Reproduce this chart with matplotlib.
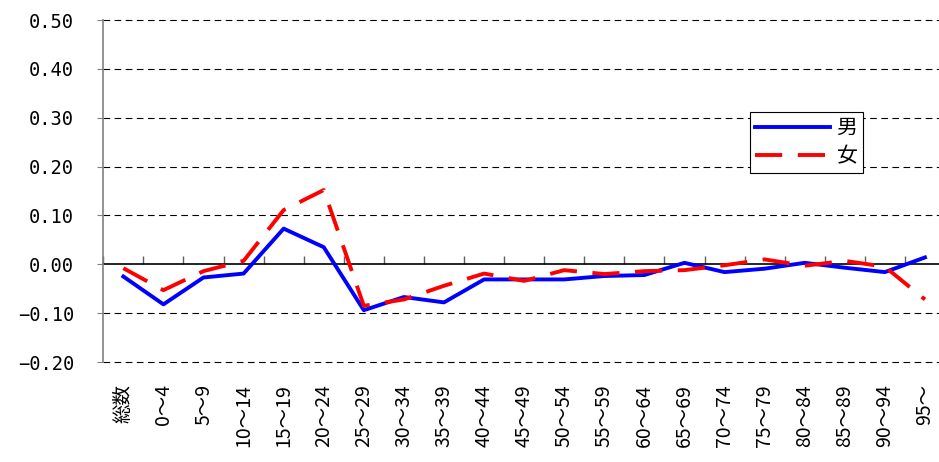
import matplotlib
matplotlib.use("Agg")
import matplotlib.pyplot as plt
import numpy as np

plt.rcParams['font.family'] = ['Noto Sans CJK JP', 'DejaVu Sans']

# 年齢階級
categories = ['総数', '0～4', '5～9', '10～14', '15～19', '20～24', '25～29',
              '30～34', '35～39', '40～44', '45～49', '50～54', '55～59',
              '60～64', '65～69', '70～74', '75～79', '80～84', '85～89',
              '90～94', '95～']
# 男
male = [-0.025, -0.082, -0.027, -0.019, 0.073, 0.035, -0.094, -0.067, -0.078,
        -0.031, -0.031, -0.031, -0.024, -0.022, 0.003, -0.016, -0.009, 0.003,
        -0.007, -0.016, 0.014]
# 女
female = [-0.008, -0.053, -0.014, 0.007, 0.111, 0.152, -0.085, -0.072, -0.044,
          -0.019, -0.034, -0.012, -0.020, -0.014, -0.012, -0.002, 0.010, -0.003,
          0.007, -0.005, -0.072]
yticks = [-0.2, -0.1, 0.0, 0.1, 0.2, 0.3, 0.4, 0.5]
ytick_labels = ['−0.20', '−0.10', '0.00', '0.10', '0.20', '0.30', '0.40', '0.50']

fig = plt.figure(figsize=(9.39, 4.62), dpi=100)
ax = fig.add_axes([103.3 / 939, 1 - 362 / 462, 841.7 / 939, 342 / 462])

x = np.arange(len(categories))
ax.set_xlim(-0.5, len(categories) - 0.5)
ax.set_ylim(-0.2, 0.5)

# グリッド (0 以外は破線)
for v in yticks:
    if v != 0:
        ax.axhline(v, color='black', lw=0.8, ls=(0, (6, 4)), zorder=1, clip_on=False)

ax.plot(x, male, color='#0000ff', lw=2.8, label='男', zorder=3)
ax.plot(x, female, color='#ff0000', lw=2.8, ls=(0, (7, 4)), label='女', zorder=3)

ax.set_yticks(yticks)
ax.set_yticklabels(ytick_labels, family='DejaVu Sans Mono', fontsize=13.5)
ax.tick_params(axis='y', length=4, color='#808080', pad=17)

ax.set_xticks(x)
ax.set_xticklabels(categories, rotation=90, fontsize=14, va='top', ha='center')
ax.tick_params(axis='x', length=0, pad=16)

for s in ['top', 'right', 'bottom']:
    ax.spines[s].set_visible(False)
ax.spines['left'].set_color('#808080')
ax.spines['left'].set_linewidth(1.2)

# 0 の位置の横軸
sec = ax.secondary_xaxis(0.2 / 0.7)
sec.set_xticks(np.arange(len(categories) + 1) - 0.5)
sec.set_xticklabels([])
sec.tick_params(direction='in', length=6, color='#606060', width=1)
sec.spines['bottom'].set_color('black')
sec.spines['bottom'].set_linewidth(1.2)

leg = ax.legend(loc='upper left', bbox_to_anchor=(750 / 939, 1 - 112 / 462),
                bbox_transform=fig.transFigure, fontsize=15, handlelength=3.6,
                frameon=True, fancybox=False, edgecolor='black', framealpha=1,
                borderpad=0.25, labelspacing=0.3, handletextpad=0.3,
                borderaxespad=0)
leg.get_frame().set_linewidth(0.8)

fig.savefig('out.png', dpi=100)
